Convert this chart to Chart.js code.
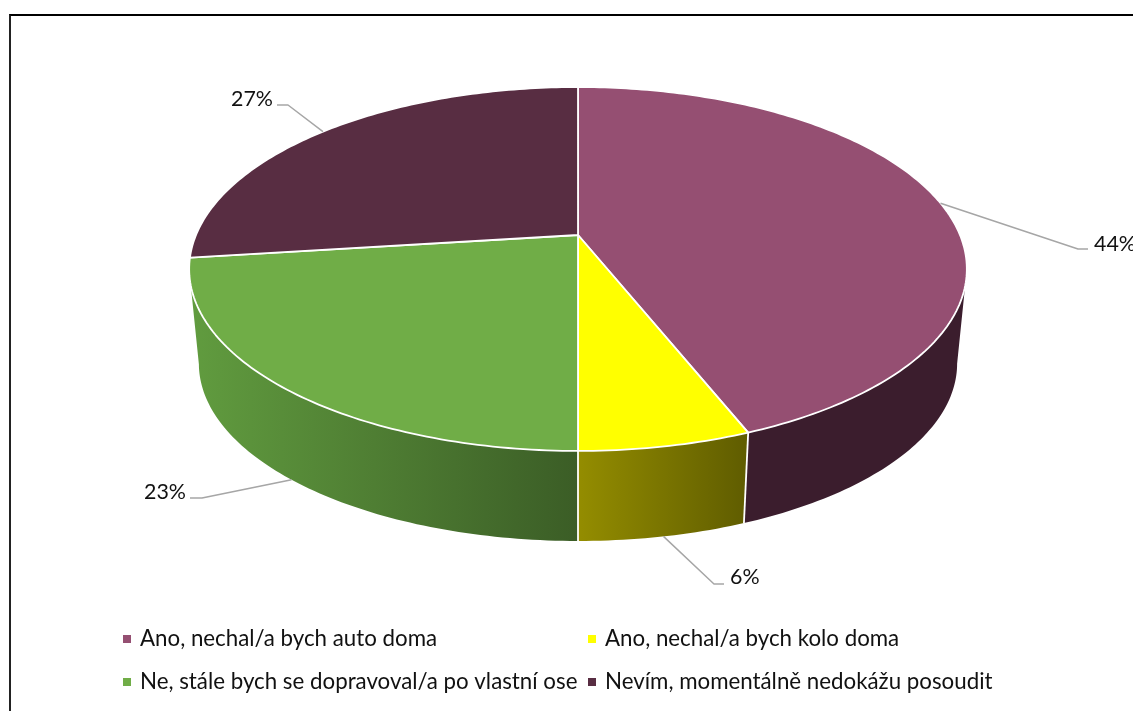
<!DOCTYPE html>
<html>
<head>
<meta charset="utf-8">
<title>Pie chart</title>
<script src="https://cdn.jsdelivr.net/npm/chart.js@4"></script>
<style>
    html, body { margin: 0; background: #fff; overflow: hidden; }
    #wrap { position: relative; width: 1133px; height: 711px; }
    #frame { position: absolute; left: 9px; top: 14px; right: -5px; bottom: -5px; border-top: 2px solid #000; border-left: 2px solid #222; }
    canvas { position: absolute; left: 0; top: 0; }
</style>
</head>
<body>
<div id="wrap">
    <canvas id="chart" width="1133" height="711"></canvas>
    <div id="frame"></div>
</div>
<script>
const categories = ['Ano, nechal/a bych auto doma', 'Ano, nechal/a bych kolo doma', 'Ne, stále bych se dopravoval/a po vlastní ose', 'Nevím, momentálně nedokážu posoudit'];
const values = [44, 6, 23, 27];
const valueLabels = ['44%', '6%', '23%', '27%'];

const topColors = ['#954f72', '#ffff00', '#70ad47', '#582d42'];
const wallColors = [['#3b1d2d', '#3b1d2d'], ['#948d00', '#5f5c00'], ['#619c3f', '#3b5d26'], ['#2c1620', '#2c1620']];
const LEGEND_FONT = '22.3px Lato, "Open Sans", sans-serif';
const VALUE_FONT = '21.4px Lato, "Open Sans", sans-serif';

// perspective of the tilted disc, fitted to the picture
const view = { cx: 578, cy: 235, rx: 382, ry: 175.6, k: 0.1868, shrink: 0.975, drop: 101.3 };

// leader line: which face it starts on, its bend, its end and where the label sits
const leaders = [
    { bottom: false, bend: [1078, 249], end: [1088, 249], text: [1094, 244] },
    { bottom: true, bend: [714, 584], end: [724, 584], text: [730, 577] },
    { bottom: true, bend: [202, 498], end: [190, 498], text: [144, 492] },
    { bottom: false, bend: [288, 105], end: [277, 105], text: [231, 99] }
];
const legendSpots = [[123, 639], [588, 639], [123, 682], [588, 682]];

// a = angle of the disc, clockwise from the top
function topPoint(a) {
    const u = Math.sin(a), v = -Math.cos(a), w = 1 - view.k * v;
    return [view.cx + view.rx * u / w, view.cy + view.ry * v / w];
}
function bottomPoint(a) {
    const p = topPoint(a);
    return [view.cx + (p[0] - view.cx) * view.shrink, p[1] * view.shrink + view.drop];
}
function arcPoints(fn, from, to) {
    const pts = [], n = Math.max(2, Math.ceil(Math.abs(to - from) * 60));
    for (let i = 0; i <= n; i++) pts.push(fn(from + (to - from) * i / n));
    return pts;
}
function tracePath(ctx, pts) {
    pts.forEach((p, i) => i ? ctx.lineTo(p[0], p[1]) : ctx.moveTo(p[0], p[1]));
}

const pie3d = {
    id: 'pie3d',
    beforeDatasetsDraw(chart) {
        const ctx = chart.ctx;
        const arcs = chart.getDatasetMeta(0).data;
        const angleOf = a => a + Math.PI / 2;
        // the wall shows between the widest points of the disc
        const frontFrom = 1.76, frontTo = 4.52;

        ctx.save();
        ctx.lineJoin = 'round';

        // side wall, front part only
        arcs.forEach((arc, i) => {
            const from = Math.max(angleOf(arc.startAngle), frontFrom);
            const to = Math.min(angleOf(arc.endAngle), frontTo);
            if (to <= from) return;
            const upper = arcPoints(topPoint, from, to);
            const lower = arcPoints(bottomPoint, from, to);
            const xs = upper.concat(lower).map(p => p[0]);
            const grad = ctx.createLinearGradient(Math.min(...xs), 0, Math.max(...xs), 0);
            grad.addColorStop(0, wallColors[i][0]);
            grad.addColorStop(1, wallColors[i][1]);
            ctx.beginPath();
            tracePath(ctx, upper.concat(lower.reverse()));
            ctx.closePath();
            ctx.fillStyle = grad;
            ctx.fill();
        });

        // white seams between the wall pieces
        ctx.strokeStyle = '#fff';
        ctx.lineWidth = 1.8;
        arcs.forEach(arc => {
            const a = angleOf(arc.endAngle);
            if (a <= frontFrom || a >= frontTo) return;
            ctx.beginPath();
            tracePath(ctx, [topPoint(a), bottomPoint(a)]);
            ctx.stroke();
        });

        // top face
        arcs.forEach((arc, i) => {
            ctx.beginPath();
            tracePath(ctx, [[view.cx, view.cy]].concat(arcPoints(topPoint, angleOf(arc.startAngle), angleOf(arc.endAngle))));
            ctx.closePath();
            ctx.fillStyle = topColors[i];
            ctx.fill();
            ctx.strokeStyle = '#fff';
            ctx.lineWidth = 1.8;
            ctx.stroke();
        });

        // leader lines and value labels
        ctx.font = VALUE_FONT;
        ctx.textBaseline = 'middle';
        ctx.textAlign = 'left';
        arcs.forEach((arc, i) => {
            const mid = angleOf((arc.startAngle + arc.endAngle) / 2);
            const l = leaders[i];
            ctx.beginPath();
            tracePath(ctx, [(l.bottom ? bottomPoint : topPoint)(mid), l.bend, l.end]);
            ctx.strokeStyle = '#a6a6a6';
            ctx.lineWidth = 1.5;
            ctx.stroke();
            ctx.fillStyle = '#111';
            ctx.fillText(valueLabels[i], l.text[0], l.text[1]);
        });

        // legend in two columns
        ctx.font = LEGEND_FONT;
        categories.forEach((name, i) => {
            const s = legendSpots[i];
            ctx.fillStyle = topColors[i];
            ctx.fillRect(s[0], s[1] - 4, 8, 8);
            ctx.fillStyle = '#111';
            ctx.fillText(name, s[0] + 17, s[1]);
        });
        ctx.restore();
        return false;
    }
};

new Chart(document.getElementById('chart'), {
    type: 'pie',
    data: {
        labels: categories,
        datasets: [{ data: values, backgroundColor: topColors }]
    },
    options: {
        responsive: false,
        animation: false,
        plugins: { legend: { display: false }, tooltip: { enabled: false } }
    },
    plugins: [pie3d]
});
</script>
</body>
</html>
